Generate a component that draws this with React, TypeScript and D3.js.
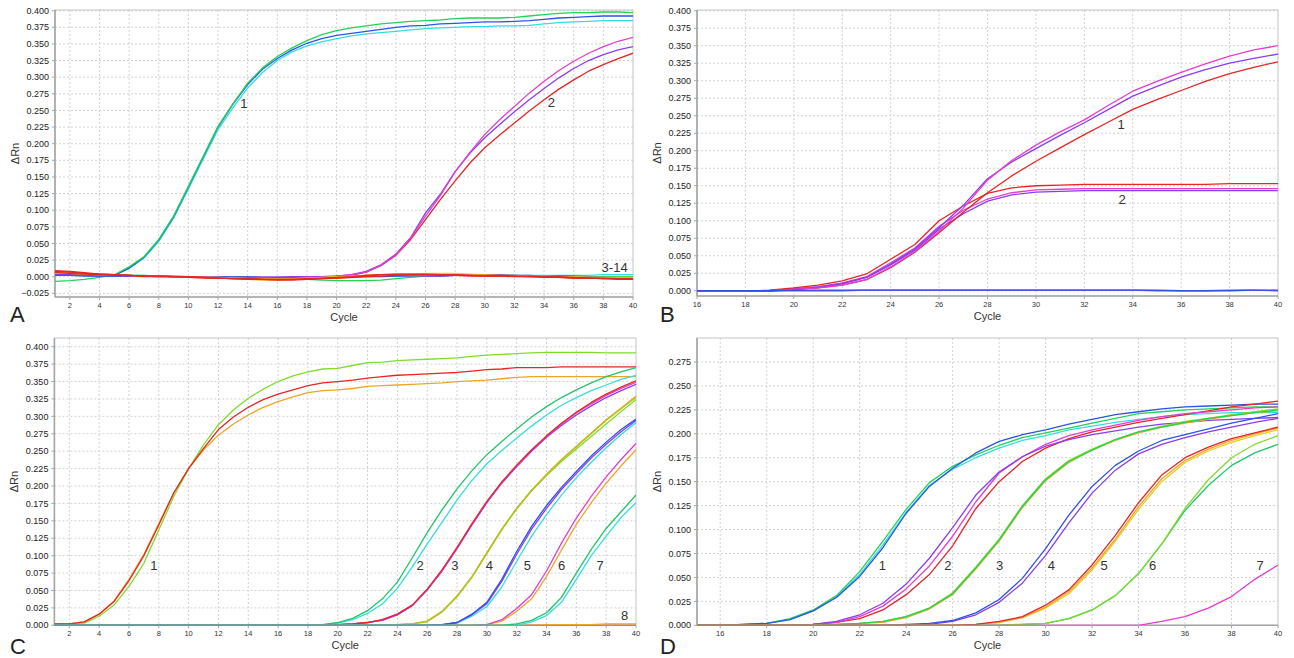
import React from "react";
import * as d3 from "d3";

// ---------- colours ----------
const GREEN = "#22d456";
const BLUE = "#2f52e6";
const CYAN = "#33dede";
const MAGENTA = "#e63ccf";
const PURPLE = "#8a3cf0";
const RED = "#e82424";
const ORANGE = "#f0a428";
const YELLOW = "#e6d01e";
const LIME = "#80dc2c";
const OLIVE = "#b4c41a";
const TEAL = "#1fc46c";

// ---------- Panel A: cycles 1–40, ΔRn × 1000 ----------
const cyclesA = d3.range(1, 41);
const aG1Green = [-7,-6,-4,-1,3,15,30,56,91,136, 181,226,260,291,314,331,344,355,364,370, 374,377,380,382,384,385,386,388,389,389, 389,390,392,394,396,397,397,398,398,397];
const aG1Blue = [2,2,1,1,2,13,29,55,90,135, 180,225,259,289,312,328,341,351,358,363, 366,369,372,375,377,378,380,381,382,383, 383,384,385,387,389,390,391,392,392,392];
const aG1Cyan = [8,6,4,2,2,12,28,53,88,132, 177,221,254,284,307,325,338,347,353,358, 362,365,367,369,371,373,374,375,376,376, 377,377,378,380,382,383,384,385,385,385];
const aG2Magenta = [5,4,3,2,2,1,1,0,0,0, -1,-1,-1,-1,-1,-1,-1,0,0,1, 3,7,17,33,58,91,122,158,187,214, 236,256,276,294,310,324,336,346,354,360];
const aG2Purple = [3,3,2,2,1,1,0,0,0,0, 0,-1,-1,-1,-1,-1,0,0,0,1, 3,8,18,34,59,96,124,158,186,209, 229,248,266,283,299,313,325,334,341,346];
const aG2Red = [6,5,4,3,2,2,1,1,0,0, -1,-2,-2,-3,-3,-3,-3,-2,-1,1, 2,7,17,32,56,86,116,144,171,194, 213,231,249,266,282,296,309,319,328,336];
const aFlatGreen = [4,4,3,3,2,2,2,1,1,0, 0,-1,-1,-1,-2,-2,-3,-4,-5,-6, -6,-6,-5,-3,-1,1,2,3,3,2, 2,2,1,1,1,0,0,0,0,0];
const aFlatCyan = [8,7,5,4,3,2,2,1,1,0, 0,-1,-1,-1,-2,-2,-2,-2,-1,-1, 0,0,1,1,2,2,2,2,2,2, 2,2,2,2,2,2,2,3,3,3];
const aFlatBlue = [2,2,2,1,1,1,1,1,0,0, 0,0,0,0,-1,-1,-1,-1,-1,-1, 0,0,0,1,1,1,1,2,2,2, 2,2,1,1,1,1,0,0,0,0];
const aFlatPurple = [3,3,2,2,2,1,1,1,0,0, 0,-1,-1,-1,-1,-1,-1,-1,0,0, 1,2,2,2,2,1,1,2,3,3, 3,2,2,1,1,0,-1,-2,-2,-2];
const aFlatMagenta = [6,5,4,3,2,2,1,1,0,0, 0,-1,-2,-2,-2,-3,-3,-2,-1,0, 1,1,2,2,2,2,2,2,2,2, 1,1,1,0,0,-1,-1,-1,-2,-2];
const aFlatYellow = [5,5,4,3,3,2,1,1,0,0, -1,-1,-2,-3,-3,-3,-3,-2,-1,0, 1,2,2,3,4,5,5,5,4,3, 2,2,1,1,0,0,-1,-1,-1,-1];
const aFlatOrange = [7,6,5,4,3,2,1,1,0,0, -1,-2,-3,-4,-5,-5,-4,-3,-2,-1, 0,2,3,4,4,3,3,2,2,2, 1,1,0,0,-1,-1,-2,-2,-2,-2];
const aFlatRed1 = [6,5,4,3,2,2,1,1,0,0, -1,-2,-3,-3,-4,-4,-4,-3,-2,-1, 0,2,3,3,3,3,2,2,1,1, 1,1,0,0,-1,-2,-2,-3,-3,-3];
const aFlatRed2 = [9,8,6,4,3,2,1,0,0,-1, -2,-2,-3,-4,-4,-5,-5,-4,-3,-2, -1,1,3,4,4,4,3,2,2,1, 1,0,0,-1,-1,-2,-2,-3,-4,-4];
const aFlatRed3 = [8,7,5,4,3,2,1,1,0,0, -1,-2,-3,-3,-4,-4,-4,-4,-3,-2, -1,0,1,2,3,3,3,3,2,2, 2,1,1,0,0,-1,-2,-2,-3,-3];

// ---------- Panel B: cycles 16–40 ----------
const cyclesB = d3.range(16, 41);
const bG1Magenta = [-1,-1,-1,0,2, 4,8,16,34,56, 85,118,158,186,208, 227,244,265,285,299, 312,324,335,344,350];
const bG1Purple = [-1,-1,-1,0,2, 5,10,19,38,60, 90,122,160,184,203, 222,240,259,278,292, 305,316,325,332,338];
const bG1Red = [-1,-1,-1,0,2, 4,8,16,33,55, 83,112,140,164,185, 204,223,241,259,273, 286,299,310,319,327];
const bG2Red = [-1,-1,-1,1,4, 8,14,24,45,66, 100,121,139,147,150, 151,152,152,152,152, 152,152,153,153,153];
const bG2Magenta = [-1,-1,-1,0,3, 6,11,20,40,61, 92,115,131,140,144, 145,146,146,146,146, 146,146,146,146,146];
const bG2Purple = [-1,-1,-1,0,2, 5,11,19,37,58, 88,110,128,137,141, 142,143,143,143,143, 143,143,143,143,143];
const bFlatBlue = [0,0,0,0,1, 1,1,1,1,1, 1,1,1,1,1, 1,1,1,1,1, 0,0,0,1,1];
const bFlatPurple = [0,0,0,0,0, 0,0,1,1,1, 1,1,1,1,1, 1,1,1,1,0, 0,0,1,1,0];

// ---------- Panel C: cycles 1–40 ----------
const cyclesC = d3.range(1, 41);
const cG1Green = [2,2,3,13,29,56,89,137,185,225, 259,288,309,326,339,350,358,364,368,369, 373,377,378,380,381,382,383,384,386,388, 389,390,391,392,392,392,392,391,391,391];
const cG1Red = [2,2,5,16,34,64,100,144,190,225, 254,281,299,313,324,332,338,344,348,350, 352,355,357,359,360,361,362,363,365,367, 368,370,370,370,371,371,371,371,371,371];
const cG1Orange = [2,2,5,16,35,66,102,146,190,225, 252,273,289,302,313,321,328,334,337,338, 340,343,344,345,346,347,348,350,351,352, 354,356,357,357,357,357,357,357,357,357];
const cG2Green = [0,0,0,0,0,0,0,0,0,0, 0,0,0,0,0,0,0,0,1,4, 10,21,38,62,97,133,166,196,222,245, 264,282,299,314,327,338,348,357,364,370];
const cG2Cyan = [0,0,0,0,0,0,0,0,0,0, 0,0,0,0,0,0,0,0,1,3, 8,17,31,53,84,117,148,180,208,232, 251,269,286,302,316,327,337,345,353,359];
const cG3Red = [0,0,0,0,0,0,0,0,0,0, 0,0,0,0,0,0,0,0,0,1, 2,4,8,16,29,52,80,112,146,178, 206,230,252,272,290,306,320,332,342,351];
const cG3Magenta = [0,0,0,0,0,0,0,0,0,0, 0,0,0,0,0,0,0,0,0,1, 2,4,8,16,29,51,79,111,145,177, 205,229,251,271,289,305,318,330,340,349];
const cG3Purple = [0,0,0,0,0,0,0,0,0,0, 0,0,0,0,0,0,0,0,0,1, 2,4,7,15,28,51,78,110,144,176, 204,228,250,270,287,302,315,327,337,346];
const cG4Olive = [0,0,0,0,0,0,0,0,0,0, 0,0,0,0,0,0,0,0,0,0, 0,0,0,1,2,6,20,42,70,104, 138,168,194,216,237,256,275,294,311,327];
const cG4Orange = [0,0,0,0,0,0,0,0,0,0, 0,0,0,0,0,0,0,0,0,0, 0,0,0,1,2,6,20,42,70,104, 138,168,194,217,238,257,276,295,312,329];
const cG4Green = [0,0,0,0,0,0,0,0,0,0, 0,0,0,0,0,0,0,0,0,0, 0,0,0,1,2,5,19,41,69,103, 137,167,193,215,235,253,271,289,307,324];
const cG5Blue = [0,0,0,0,0,0,0,0,0,0, 0,0,0,0,0,0,0,0,0,0, 0,0,0,0,0,0,1,4,16,33, 66,106,142,172,198,221,243,263,281,296];
const cG5Purple = [0,0,0,0,0,0,0,0,0,0, 0,0,0,0,0,0,0,0,0,0, 0,0,0,0,0,0,1,4,15,31, 63,102,138,168,195,218,240,260,278,294];
const cG5Cyan = [0,0,0,0,0,0,0,0,0,0, 0,0,0,0,0,0,0,0,0,0, 0,0,0,0,0,0,0,3,13,27, 55,92,128,159,187,212,234,255,274,291];
const cG6Magenta = [0,0,0,0,0,0,0,0,0,0, 0,0,0,0,0,0,0,0,0,0, 0,0,0,0,0,0,0,0,0,1, 8,24,44,78,118,154,185,213,238,261];
const cG6Orange = [0,0,0,0,0,0,0,0,0,0, 0,0,0,0,0,0,0,0,0,0, 0,0,0,0,0,0,0,0,0,1, 6,20,38,70,108,145,176,204,229,252];
const cG7Green = [0,0,0,0,0,0,0,0,0,0, 0,0,0,0,0,0,0,0,0,0, 0,0,0,0,0,0,0,0,0,0, 0,2,7,18,40,75,109,139,163,187];
const cG7Cyan = [0,0,0,0,0,0,0,0,0,0, 0,0,0,0,0,0,0,0,0,0, 0,0,0,0,0,0,0,0,0,0, 0,0,5,14,33,66,100,128,155,176];
const cG8Red = [0,0,0,0,0,0,0,0,0,0, 0,0,0,0,0,0,0,0,0,0, 0,0,0,0,0,0,0,0,0,0, 0,0,0,0,0,0,0,0,0,0];
const cG8Orange = [0,0,0,0,0,0,0,0,0,0, 0,0,0,0,0,0,0,0,0,0, 0,0,0,0,0,0,0,0,0,0, 0,0,0,1,1,1,1,2,2,2];

// ---------- Panel D: cycles 15–40 ----------
const cyclesD = d3.range(15, 41);
const dG1Blue = [0,0,1,2,6, 15,29,51,81,117, 145,164,180,192,199, 204,210,215,220,223, 226,228,229,230,231, 231];
const dG1Green = [0,0,1,2,7, 16,31,56,88,121, 149,166,178,188,196, 201,206,211,216,221, 223,225,226,227,228, 228];
const dG1Cyan = [0,0,1,2,6, 15,30,53,84,118, 146,163,175,185,193, 198,204,208,212,215, 218,220,221,222,222, 222];
const dG2Purple = [0,0,0,0,0, 1,4,11,23,43, 70,102,136,160,176, 187,194,199,203,207, 210,212,214,215,216, 217];
const dG2Magenta = [0,0,0,0,0, 1,3,9,20,38, 62,93,129,159,176, 189,198,204,209,214, 218,221,223,225,227, 228];
const dG2Red = [0,0,0,0,0, 1,3,7,16,32, 53,83,122,150,171, 185,195,202,207,212, 216,220,224,228,231, 234];
const dG3Green = [0,0,0,0,0, 0,1,2,4,9, 18,33,60,89,124, 152,171,183,194,202, 207,212,216,219,222, 225];
const dG3Lime = [0,0,0,0,0, 0,1,2,4,9, 18,34,61,90,125, 153,172,184,194,202, 208,213,216,220,223, 226];
const dG3Orange = [0,0,0,0,0, 0,1,2,3,8, 17,32,59,88,123, 151,170,183,193,201, 207,211,215,219,222, 224];
const dG4Blue = [0,0,0,0,0, 0,0,0,0,1, 2,5,13,27,49, 80,115,145,167,182, 193,199,205,211,216, 221];
const dG4Purple = [0,0,0,0,0, 0,0,0,0,0, 1,4,11,24,44, 73,107,138,162,179, 189,196,202,207,212, 216];
const dG5Red = [0,0,0,0,0, 0,0,0,0,0, 0,0,1,4,9, 21,37,63,94,128, 157,175,186,195,201, 207];
const dG5Orange = [0,0,0,0,0, 0,0,0,0,0, 0,0,1,3,8, 19,35,60,90,124, 153,172,184,193,200, 206];
const dG5Yellow = [0,0,0,0,0, 0,0,0,0,0, 0,0,1,3,8, 18,33,58,88,121, 150,170,182,191,198, 204];
const dG6Lime = [0,0,0,0,0, 0,0,0,0,0, 0,0,0,0,1, 2,7,16,31,54, 85,122,152,175,189, 198];
const dG6Green = [0,0,0,0,0, 0,0,0,0,0, 0,0,0,0,1, 2,7,16,31,54, 85,120,146,167,180, 189];
const dG7Magenta = [0,0,0,0,0, 0,0,0,0,0, 0,0,0,0,0, 0,0,0,0,0, 4,9,18,30,48, 63];

// ---------- tick labels ----------
const xTicksAC = d3.range(2, 41, 2);
const xTicksBD = d3.range(16, 41, 2);
const yTicksA = d3.range(-1, 17).map((i) => i * 0.025);
const yTicksB = d3.range(0, 17).map((i) => i * 0.025);
const yTicksC = d3.range(0, 17).map((i) => i * 0.025);
const yTicksD = d3.range(0, 12).map((i) => i * 0.025);

const FONT = "Arial, 'Liberation Sans', Helvetica, sans-serif";

type Series = { values: number[]; color: string };
type Label = { text: string; c: number; v: number };

interface PanelProps {
  id: string;
  left: number; right: number; top: number; bottom: number;
  xDomain: [number, number]; yDomain: [number, number];
  xTicks: number[]; yTicks: number[];
  cycles: number[]; series: Series[]; labels: Label[];
  letter: string; letterX: number; letterY: number;
}

function Panel(p: PanelProps) {
  const x = d3.scaleLinear().domain(p.xDomain).range([p.left, p.right]);
  const y = d3.scaleLinear().domain(p.yDomain).range([p.bottom, p.top]);
  const fmt = d3.format(".3f");
  const line = d3
    .line<number>()
    .x((_, i) => x(p.cycles[i]))
    .y((d) => y(d / 1000));
  const gridColor = "#d2d2d2";
  return (
    <g>
      <defs>
        <clipPath id={`clip-${p.id}`}>
          <rect x={p.left} y={p.top} width={p.right - p.left} height={p.bottom - p.top} />
        </clipPath>
      </defs>
      {/* grid */}
      {p.xTicks
        .filter((t) => t > p.xDomain[0] && t < p.xDomain[1])
        .map((t) => (
          <line key={`gx${t}`} x1={x(t)} x2={x(t)} y1={p.top} y2={p.bottom}
            stroke={gridColor} strokeWidth={1} strokeDasharray="2,2" />
        ))}
      {p.yTicks
        .filter((t) => y(t) > p.top + 0.5 && y(t) < p.bottom - 0.5)
        .map((t) => (
          <line key={`gy${t}`} x1={p.left} x2={p.right} y1={y(t)} y2={y(t)}
            stroke={gridColor} strokeWidth={1} strokeDasharray="2,2" />
        ))}
      {/* frame */}
      <rect x={p.left} y={p.top} width={p.right - p.left} height={p.bottom - p.top}
        fill="none" stroke="#c4c4c4" strokeWidth={1} />
      <line x1={p.left} x2={p.left} y1={p.top} y2={p.bottom} stroke="#a6a6a6" strokeWidth={1.6} />
      <line x1={p.left} x2={p.right} y1={p.bottom} y2={p.bottom} stroke="#a6a6a6" strokeWidth={1.6} />
      {/* x ticks */}
      {p.xTicks.map((t) => (
        <g key={`xt${t}`}>
          <line x1={x(t)} x2={x(t)} y1={p.bottom} y2={p.bottom + 3} stroke="#a6a6a6" />
          <text x={x(t)} y={p.bottom + 11} textAnchor="middle" fontSize={7.5}
            fontFamily={FONT} fill="#333">{t}</text>
        </g>
      ))}
      {/* y ticks */}
      {p.yTicks.map((t) => (
        <g key={`yt${t}`}>
          <line x1={p.left - 3} x2={p.left} y1={y(t)} y2={y(t)} stroke="#a6a6a6" />
          <text x={p.left - 6} y={y(t)} dy="0.35em" textAnchor="end" fontSize={9}
            fontFamily={FONT} fill="#222">{fmt(Math.abs(t) < 1e-9 ? 0 : t)}</text>
        </g>
      ))}
      {/* series */}
      <g clipPath={`url(#clip-${p.id})`}>
        {p.series.map((s, i) => (
          <path key={i} d={line(s.values) || ""} fill="none" stroke={s.color}
            strokeWidth={1.3} strokeLinejoin="round" />
        ))}
      </g>
      {/* curve labels */}
      {p.labels.map((l, i) => (
        <text key={i} x={x(l.c)} y={y(l.v)} dy="0.35em" textAnchor="middle"
          fontSize={13} fontFamily={FONT} fill="#333">{l.text}</text>
      ))}
      {/* axis titles */}
      <text transform={`translate(${p.left - 40},${(p.top + p.bottom) / 2}) rotate(-90)`}
        textAnchor="middle" dy="0.35em" fontSize={11} fontFamily={FONT} fill="#333">ΔRn</text>
      <text x={(p.left + p.right) / 2} y={p.bottom + 24} textAnchor="middle" fontSize={11}
        fontFamily={FONT} fill="#333">Cycle</text>
      <text x={p.letterX} y={p.letterY} fontSize={22} fontFamily={FONT} fill="#222">{p.letter}</text>
    </g>
  );
}

export default function App() {
  const panelA: PanelProps = {
    id: "A", left: 55, right: 633, top: 10, bottom: 297,
    xDomain: [1, 40], yDomain: [-0.0305, 0.401],
    xTicks: xTicksAC, yTicks: yTicksA, cycles: cyclesA,
    series: [
      { values: aG1Cyan, color: CYAN },
      { values: aG1Blue, color: BLUE },
      { values: aG1Green, color: GREEN },
      { values: aG2Red, color: RED },
      { values: aG2Purple, color: PURPLE },
      { values: aG2Magenta, color: MAGENTA },
      { values: aFlatCyan, color: CYAN },
      { values: aFlatBlue, color: BLUE },
      { values: aFlatGreen, color: GREEN },
      { values: aFlatPurple, color: PURPLE },
      { values: aFlatMagenta, color: MAGENTA },
      { values: aFlatYellow, color: YELLOW },
      { values: aFlatOrange, color: ORANGE },
      { values: aFlatRed1, color: RED },
      { values: aFlatRed2, color: RED },
      { values: aFlatRed3, color: RED },
    ],
    labels: [
      { text: "1", c: 13.74, v: 0.26 },
      { text: "2", c: 34.5, v: 0.2615 },
      { text: "3-14", c: 38.76, v: 0.014 },
    ],
    letter: "A", letterX: 10, letterY: 322,
  };
  const panelB: PanelProps = {
    id: "B", left: 697, right: 1278, top: 10, bottom: 296,
    xDomain: [16, 40], yDomain: [-0.0075, 0.401],
    xTicks: xTicksBD, yTicks: yTicksB, cycles: cyclesB,
    series: [
      { values: bG2Purple, color: PURPLE },
      { values: bG2Magenta, color: MAGENTA },
      { values: bG2Red, color: RED },
      { values: bG1Red, color: RED },
      { values: bG1Purple, color: PURPLE },
      { values: bG1Magenta, color: MAGENTA },
      { values: bFlatPurple, color: PURPLE },
      { values: bFlatBlue, color: BLUE },
    ],
    labels: [
      { text: "1", c: 33.52, v: 0.237 },
      { text: "2", c: 33.56, v: 0.13 },
    ],
    letter: "B", letterX: 660, letterY: 322,
  };
  const panelC: PanelProps = {
    id: "C", left: 54.4, right: 636, top: 338, bottom: 625.3,
    xDomain: [1, 40], yDomain: [0, 0.4125],
    xTicks: xTicksAC, yTicks: yTicksC, cycles: cyclesC,
    series: [
      { values: cG8Red, color: RED },
      { values: cG8Orange, color: ORANGE },
      { values: cG1Orange, color: ORANGE },
      { values: cG1Green, color: LIME },
      { values: cG1Red, color: RED },
      { values: cG2Cyan, color: CYAN },
      { values: cG2Green, color: TEAL },
      { values: cG3Purple, color: PURPLE },
      { values: cG3Magenta, color: MAGENTA },
      { values: cG3Red, color: RED },
      { values: cG4Green, color: LIME },
      { values: cG4Orange, color: ORANGE },
      { values: cG4Olive, color: OLIVE },
      { values: cG5Cyan, color: CYAN },
      { values: cG5Purple, color: PURPLE },
      { values: cG5Blue, color: BLUE },
      { values: cG6Orange, color: ORANGE },
      { values: cG6Magenta, color: MAGENTA },
      { values: cG7Cyan, color: CYAN },
      { values: cG7Green, color: TEAL },
    ],
    labels: [
      { text: "1", c: 7.67, v: 0.0866 },
      { text: "2", c: 25.52, v: 0.0866 },
      { text: "3", c: 27.86, v: 0.0866 },
      { text: "4", c: 30.16, v: 0.0866 },
      { text: "5", c: 32.72, v: 0.0866 },
      { text: "6", c: 35.02, v: 0.0866 },
      { text: "7", c: 37.59, v: 0.0866 },
      { text: "8", c: 39.24, v: 0.0148 },
    ],
    letter: "C", letterX: 10, letterY: 654,
  };
  const panelD: PanelProps = {
    id: "D", left: 697, right: 1278, top: 338, bottom: 625.3,
    xDomain: [15, 40], yDomain: [0, 0.3],
    xTicks: xTicksBD, yTicks: yTicksD, cycles: cyclesD,
    series: [
      { values: dG1Cyan, color: CYAN },
      { values: dG1Green, color: GREEN },
      { values: dG1Blue, color: BLUE },
      { values: dG2Red, color: RED },
      { values: dG2Magenta, color: MAGENTA },
      { values: dG2Purple, color: PURPLE },
      { values: dG3Orange, color: ORANGE },
      { values: dG3Lime, color: LIME },
      { values: dG3Green, color: GREEN },
      { values: dG4Purple, color: PURPLE },
      { values: dG4Blue, color: BLUE },
      { values: dG5Yellow, color: YELLOW },
      { values: dG5Orange, color: ORANGE },
      { values: dG5Red, color: RED },
      { values: dG6Green, color: TEAL },
      { values: dG6Lime, color: LIME },
      { values: dG7Magenta, color: MAGENTA },
    ],
    labels: [
      { text: "1", c: 22.98, v: 0.062 },
      { text: "2", c: 25.8, v: 0.062 },
      { text: "3", c: 28.02, v: 0.062 },
      { text: "4", c: 30.25, v: 0.062 },
      { text: "5", c: 32.52, v: 0.062 },
      { text: "6", c: 34.6, v: 0.062 },
      { text: "7", c: 39.23, v: 0.062 },
    ],
    letter: "D", letterX: 660, letterY: 654,
  };
  return (
    <svg width={1294} height={658} viewBox="0 0 1294 658"
      style={{ position: "absolute", left: 0, top: 0, display: "block", background: "#fff" }}>
      <rect width={1294} height={658} fill="#fff" />
      <Panel {...panelA} />
      <Panel {...panelB} />
      <Panel {...panelC} />
      <Panel {...panelD} />
    </svg>
  );
}
